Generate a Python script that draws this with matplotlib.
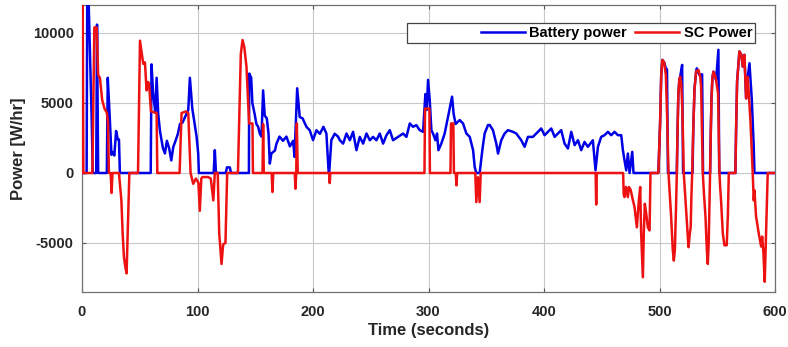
import matplotlib
matplotlib.use("Agg")
import matplotlib.pyplot as plt
from matplotlib.patches import Rectangle

plt.rcParams["axes.unicode_minus"] = False

# ---- data (time in seconds, power in W/hr) ----
battery_t = [0, 4.0, 4.6, 5.2, 8.4, 9.3, 12.3, 13.0, 14.0, 21.5, 22.3, 24.0, 25.5, 26.5, 28.0, 29.5, 31.0, 32.0, 32.8,
             59.5, 60.2, 61.5, 63.5, 64.6, 66, 67.5, 70, 71.8, 73.5, 75.5, 77.3, 79, 81, 83, 84.8, 87, 92, 93.4, 95.5,
             99.2, 100.6, 101.2, 114.0, 115.0, 116.0, 124.5, 125.5, 128, 129,
             144.5, 144.8, 146.5, 147.5, 149.5, 151, 152.5, 154, 155.4, 156.8, 158.2, 160, 161.5, 162.6, 164, 167,
             168.4, 171, 174, 177, 180, 182.8, 184, 186.3, 188.5, 191, 194.3, 197.2, 200, 203, 206, 209, 211.6, 213.6,
             214.0, 215.9, 218.8, 221.7, 223.2, 226.1, 229, 231.9, 234.7, 237.6, 240.5, 243.4, 246.3, 249.2, 252.0,
             254.9, 257.8, 260.7, 263.6, 266.5, 269.3, 273.7, 278, 280.9, 283.8, 286.6, 289.5, 292.4, 295.3, 297.3,
             298.5, 299.6, 301.1, 302.5, 303.9, 306, 307.4, 308.6, 311.1, 314.0, 316.9, 320.4, 321.8, 323.5, 327,
             329.9, 332.8, 335.7, 338.6, 340, 341.4, 344.3, 346.6, 348.6, 351.5, 353, 355.8, 358.7, 360.2, 363, 365.9,
             368.8, 373.1, 376, 380.3, 383.2, 386.1, 390.4, 394.8, 397.6, 400.5, 403.4, 406.3, 409.2, 412.1, 414.9,
             417.8, 420.7, 423.6, 426.5, 429.4, 432.2, 435.1, 438, 442.3, 444.6, 446.7, 449.5, 452.4, 455.3, 458.2,
             461.1, 464, 466.9, 468.3, 469.7, 471.2, 472.6, 474.1, 475.5, 476.4, 477.5,
             499.0, 500.5, 501.5, 502.5, 504.0, 505.5, 506.5, 507.3,
             515.0, 515.5, 516.3, 517.2, 517.9, 519.6, 520.4,
             528.6, 529.2, 530.3, 531.7, 532.3, 534.6, 536.9, 537.7,
             543.8, 544.3, 545.0, 545.8, 546.7, 548.0, 549.0, 551.0, 551.7,
             565.7, 566.3, 567.2, 569.2, 570.9, 572.1, 573.5, 575.0, 576.4, 577.9, 579.9, 581.6, 582.2, 600]
battery_p = [0, 0, 14000, 14000, 3800, 0, 0, 10600, 0, 0, 6800, 4000, 1300, 1500, 1250, 3000, 2400, 2400, 0,
             0, 7760, 5800, 4300, 6800, 4200, 3000, 1800, 1400, 2300, 1750, 900, 1850, 2300, 2800, 3500, 3600, 4500,
             6800, 4600, 2600, 1400, 0, 0, 1630, 0, 0, 400, 400, 0,
             0, 7100, 6800, 5000, 4200, 3500, 3300, 2800, 2600, 5900, 4100, 3900, 2800, 670, 1400, 1600,
             2100, 2600, 2300, 2600, 1900, 2300, 1150, 6050, 4000, 3900, 3300, 3050, 2350, 3050, 2800, 3300, 2820, 0,
             0, 2350, 2800, 2600, 2340, 2100, 2820, 2340, 2940, 1630, 2580, 2100, 2820, 2340, 2580,
             2340, 2820, 2100, 2700, 3060, 2340, 2580, 2820, 2580, 3540, 3300, 3420, 3060, 2940, 5640,
             4500, 6650, 5160, 3060, 2820, 2340, 2820, 1630, 2100, 2820, 4020, 5450, 4200, 3500, 3780,
             3540, 2820, 2580, 1630, 430, 0, 0, 1630, 2820, 3420, 3430, 3060, 2100, 1390, 2340, 2820,
             3060, 2940, 2820, 2340, 1870, 2580, 2580, 2940, 3180, 2700, 2940, 3180, 2580, 2820, 3060,
             2100, 1750, 2940, 1990, 2340, 1630, 2220, 1870, 2340, 190, 1870, 2580, 2700, 2940, 2700,
             2940, 2700, 2700, 1630, 910, 190, 1390, 0, 910, 1510, 0,
             0, 3500, 7000, 8080, 7900, 7480, 7400, 0,
             0, 2500, 5600, 6700, 6880, 7720, 0,
             0, 3000, 6000, 7240, 7480, 7000, 7050, 0,
             0, 2500, 5260, 6800, 7240, 7000, 6640, 8800, 0,
             0, 3000, 6550, 8680, 8440, 7600, 8440, 5330, 6870, 7840, 5260, 1870, 0, 0]

sc_t = [0, 0.5, 1.2, 9.0, 10.7, 12.7, 14.0, 15.5, 17.5, 19.5, 21.5, 22.5, 23.3, 24.8, 25.6, 26.4,
        32.0, 34.1, 35.2, 36.3, 37.5, 38.6, 40.0, 41.0,
        48.5, 50.2, 53.0, 54.5, 55.9, 57.3, 58.2, 59.7, 64.6, 65.2, 84.5, 86.2, 90.0, 92.0, 94.0,
        96.3, 98.6, 100.8, 102.0, 103.3, 104.3, 109.2, 111.5, 113.7, 115.0,
        117.5, 118.8, 120.8, 122.2, 124.2, 125.7,
        135.0, 137.5, 139.0, 140.5, 142.4, 144.7, 147.6, 148.0, 156.3, 156.8, 157.4,
        164.2, 164.9, 165.6, 184.2, 184.8, 185.5, 186.0, 186.8, 214.1, 214.5, 215.0,
        296.5, 297.0, 300.8, 301.2, 319.0, 319.5, 321.5, 322.0, 323.6, 324.2, 324.8,
        340.5, 341.4, 342.8, 344.3, 345.2, 444.7, 445.2, 445.7,
        468.5, 469.0, 469.7, 471.0, 472.6, 473.5, 475.0, 477.0, 478.4, 480.4, 482.1, 483.3, 484.1, 485.6,
        486.4, 487.3, 488.5, 489.9, 491.4, 492.2,
        499.0, 500.5, 501.5, 502.5, 504.0, 505.5, 506.6, 507.8,
        508.5, 510.0, 511.5, 512.4, 513.3, 514.3, 515.0,
        515.5, 516.3, 517.2, 517.9, 518.8, 519.8, 521.0,
        522.5, 524.0, 525.1, 526.3, 527.0, 527.6, 528.3,
        529.2, 530.3, 531.7, 533.7, 535.2, 536.0, 536.8, 537.5,
        538.5, 539.8, 541.0, 541.8, 542.6, 543.8,
        544.3, 545.0, 545.8, 546.7, 548.0, 549.0, 550.7, 551.3, 551.9,
        552.5, 553.3, 554.8, 556.2, 558.2, 559.2, 560.0,
        565.7, 566.3, 567.2, 569.2, 570.9, 572.1, 573.5, 575.0, 576.4, 578.7, 580.7,
        581.6, 582.2, 583.6, 585.9, 588.0, 588.9, 590.0, 591.1, 592.3, 593.7, 600]
sc_p = [0, 14000, 0, 0, 10400, 10400, 7000, 6800, 5200, 4600, 4300, 3700, 0, 0, -1430, 0,
        0, -1960, -4330, -6000, -6700, -7170, -3000, 0,
        0, 9450, 7800, 7900, 5900, 6500, 6200, 4400, 4280, 0, 0, 4280, 4400, 4280, 0,
        -770, -400, -700, -2700, -400, -290, -290, -400, -1960, 0,
        0, -4300, -6500, -5100, -5000, 0,
        0, 8500, 9500, 9000, 7600, 3540, 3540, 0, 0, 3500, 0,
        0, -1360, 0, 0, -1120, 0, 3540, 0, 0, -720, 0,
        0, 4600, 4600, 0, 0, 3540, 3540, 0, 0, -880, 0,
        0, -2080, -300, -2080, 0, 0, -2250, 0,
        0, -1500, -1720, -1000, -1720, -1000, -1200, -1960, -2440, -3880, -1960, -1000, -4300, -7450,
        -4300, -2200, -2900, -3880, -4100, 0,
        0, 3500, 7000, 8080, 7900, 7000, 4000, 0,
        -1000, -3000, -5500, -6260, -5500, -2500, 0,
        2500, 5600, 6700, 6880, 6400, 4500, 0,
        -1960, -4000, -5300, -4300, -3870, -1720, 0,
        3000, 6000, 7240, 7360, 6900, 6210, 3000, 0,
        -1500, -3100, -5500, -6500, -5000, 0,
        2500, 5260, 6800, 7240, 7000, 6640, 5690, 3000, 0,
        -1000, -1960, -4300, -5160, -5160, -3000, 0,
        0, 3000, 6550, 8680, 8440, 7600, 8440, 5330, 6870, 3800, 0,
        -1960, -1240, -3100, -4300, -5250, -4540, -5740, -7770, -4300, 0, 0]

x_ticks = [0, 100, 200, 300, 400, 500, 600]
y_ticks = [-5000, 0, 5000, 10000]

FONT = "Liberation Sans"

fig = plt.figure(figsize=(7.88, 3.47), dpi=100)
ax = fig.add_axes([82/788, 1 - 292/347, (775-82)/788, (292-5)/347])

ax.plot(battery_t, battery_p, color="#0000e6", lw=1.8, label="Battery power", zorder=3)
ax.plot(sc_t, sc_p, color="#ee1111", lw=1.8, label="SC Power", zorder=3)

ax.set_xlim(0, 600)
ax.set_ylim(-8500, 12000)
ax.set_xticks(x_ticks)
ax.set_yticks(y_ticks)
ax.grid(True, color="#c8c8c8", lw=0.8)
ax.set_axisbelow(True)
for s in ax.spines.values():
    s.set_color("#707070")
    s.set_linewidth(0.9)
ax.tick_params(direction="in", length=3, color="#555555", top=True, right=True,
               labelsize=10.5, pad=6)
for lab in ax.get_xticklabels() + ax.get_yticklabels():
    lab.set_fontfamily(FONT)
    lab.set_fontweight("bold")
    lab.set_color("#262626")
ax.tick_params(axis="x", pad=9)

ax.set_xlabel("Time (seconds)", fontfamily=FONT, fontweight="bold", fontsize=12, color="#262626", labelpad=3)
ax.set_ylabel("Power [W/hr]", fontfamily=FONT, fontweight="bold", fontsize=12, color="#262626", labelpad=5)

# legend box (MATLAB style, wider than content)
x0 = (407-82)/693
x1 = (755-82)/693
yt = (292-23)/287
yb = (292-43)/287
ax.add_patch(Rectangle((x0, yb), x1 - x0, yt - yb, transform=ax.transAxes,
                       facecolor="white", edgecolor="#444444", lw=0.9, zorder=4))
leg = ax.legend(loc="center right", bbox_to_anchor=(x1 - 0.004, (yt + yb) / 2), ncol=2, frameon=False,
                handlelength=3.0, handletextpad=0.3, columnspacing=0.6, borderpad=0, borderaxespad=0,
                prop={"family": FONT, "weight": "bold", "size": 10.5})
leg.set_zorder(5)

fig.savefig("out.png", dpi=100)
